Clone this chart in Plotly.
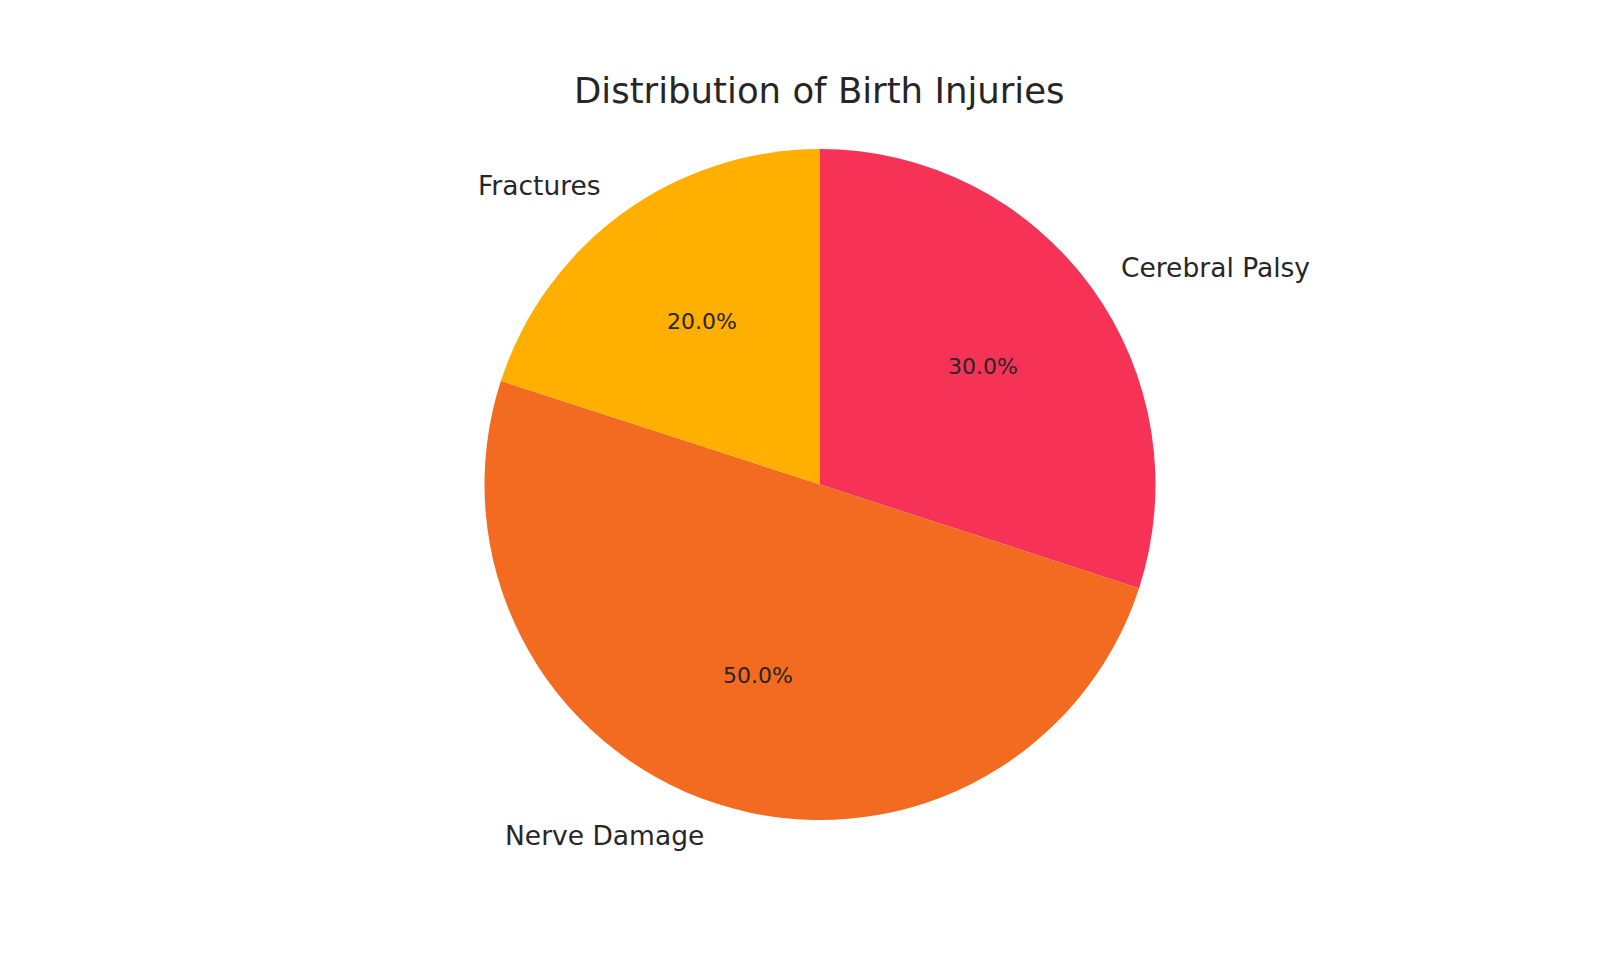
import math
import plotly.graph_objects as go

categories = ["Cerebral Palsy", "Nerve Damage", "Fractures"]
values = [30, 50, 20]
colors = ["#F63256", "#F36A21", "#FFAF00"]
title_text = "Distribution of Birth Injuries"

W, H = 1600, 960
OFF = 8  # browser body margin offset
CX, CY, R = 820 - OFF, 484.5 - OFF, 335.5  # pie centre and radius in figure pixels
TITLE_Y = 90 - OFF

fig = go.Figure()
fig.add_trace(go.Pie(
    labels=categories,
    values=values,
    marker=dict(colors=colors, line=dict(width=0)),
    sort=False,
    direction="clockwise",
    rotation=0,
    textinfo="none",
    hoverinfo="label+percent",
    showlegend=False,
    domain=dict(x=[(CX - R) / W, (CX + R) / W], y=[1 - (CY + R) / H, 1 - (CY - R) / H]),
))

total = sum(values)
cum = 0.0
annotations = []
for lab, v in zip(categories, values):
    mid = math.radians(90 - 360 * (cum + v / 2) / total)
    cum += v
    # percent label at 0.6 r
    px = CX + 0.6 * R * math.cos(mid)
    py = CY - 0.6 * R * math.sin(mid)
    annotations.append(dict(
        x=px / W, y=1 - py / H, xref="paper", yref="paper",
        text=f"{100 * v / total:.1f}%", showarrow=False,
        xanchor="center", yanchor="middle",
        font=dict(family="DejaVu Sans", size=22, color="#262626"),
    ))
    # category label at 1.1 r
    lx = CX + 1.1 * R * math.cos(mid)
    ly = CY - 1.1 * R * math.sin(mid)
    annotations.append(dict(
        x=lx / W, y=1 - ly / H, xref="paper", yref="paper",
        text=lab, showarrow=False,
        xanchor="left" if math.cos(mid) > 0 else "right", yanchor="middle",
        font=dict(family="DejaVu Sans", size=26.5, color="#262626"),
    ))

annotations.append(dict(
    x=CX / W, y=1 - TITLE_Y / H, xref="paper", yref="paper",
    text=title_text, showarrow=False, xanchor="center", yanchor="middle",
    font=dict(family="DejaVu Sans", size=35.5, color="#262626"),
))

fig.update_layout(
    width=W, height=H,
    margin=dict(l=0, r=0, t=0, b=0),
    paper_bgcolor="white", plot_bgcolor="white",
    annotations=annotations,
)

fig.write_html("out.html")
